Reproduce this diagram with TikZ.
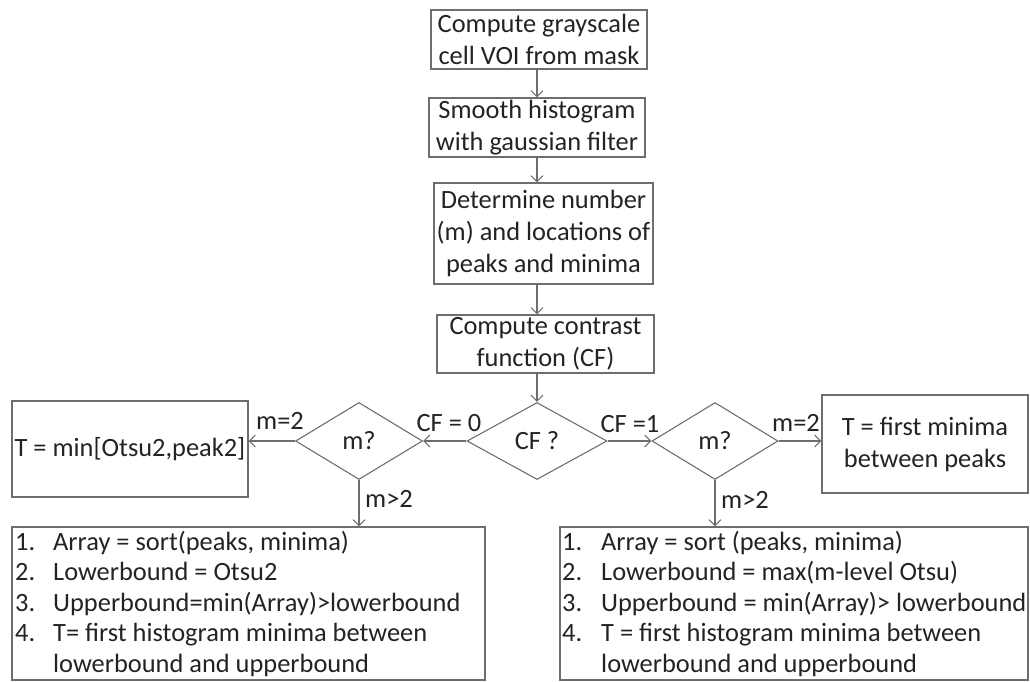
\documentclass[tikz,border=0pt]{standalone}
\usepackage{fontspec}
\setmainfont{Carlito}
\usetikzlibrary{arrows.meta,shapes.geometric}
\definecolor{linegray}{RGB}{110,110,110}
\definecolor{txt}{RGB}{35,35,35}
\begin{document}
\begin{tikzpicture}[x=1pt,y=-1pt,
  line/.style={draw=linegray, line width=1.1pt},
  box/.style={line, rectangle, inner sep=0pt, align=center, text=txt, font=\fontsize{26.4}{32}\selectfont},
  dec/.style={line, diamond, inner sep=0pt, text=txt, font=\fontsize{26.4}{32}\selectfont},
  arr/.style={draw=linegray, line width=1.1pt, -{Straight Barb[length=6pt,width=12pt]}},
  lbl/.style={text=txt, font=\fontsize{26.4}{32}\selectfont, inner sep=0pt},
  item/.style={text=txt, font=\fontsize{26.4}{30.5}\selectfont, inner sep=0pt, anchor=base west},
]
\useasboundingbox (0,0) rectangle (1030,681);

% main column
\node[box, minimum width=216, minimum height=59] (b1) at (539,39.5) {Compute grayscale\\cell VOI from mask};
\node[box, minimum width=216, minimum height=59] (b2) at (537,127.5) {Smooth histogram\\with gaussian filter};
\node[box, minimum width=219, minimum height=101] (b3) at (543.5,233.5) {Determine number\\(m) and locations of\\peaks and minima};
\node[box, minimum width=217, minimum height=58] (b4) at (545.5,344) {Compute contrast\\function (CF)};

% decisions
\node[dec, minimum width=140, minimum height=77] (cf) at (537,441) {CF ?};
\node[dec, minimum width=127, minimum height=77] (ml) at (359,441) {m?};
\node[dec, minimum width=126, minimum height=77] (mr) at (715,441) {m?};

% outcome boxes
\node[box, minimum width=236, minimum height=96] (tl) at (130,449) {T = min[Otsu2,peak2]};
\node[box, minimum width=206, minimum height=98] (tr) at (925,444) {T = first minima\\between peaks};
\node[box, minimum width=473, minimum height=153] (ll) at (248.5,603.5) {};
\node[box, minimum width=468, minimum height=153] (lr) at (794,603.5) {};

% connectors
\draw[arr] (b1.south -| cf.center) -- (b2.north -| cf.center);
\draw[arr] (b2.south -| cf.center) -- (b3.north -| cf.center);
\draw[arr] (b3.south -| cf.center) -- (b4.north -| cf.center);
\draw[arr] (b4.south -| cf.center) -- (cf.north);
\draw[arr] (cf.west) -- (ml.east);
\draw[arr] (cf.east) -- (mr.west);
\draw[arr] (ml.west) -- (ml.west -| tl.east);
\draw[arr] (mr.east) -- (mr.east -| tr.west);
\draw[arr] (ml.south) -- (ml.south |- ll.north);
\draw[arr] (mr.south) -- (mr.south |- lr.north);

% labels
\node[lbl] (lcf0) at (449,423) {CF = 0};
\node[lbl] (lcf1) at (630,424) {CF =1};
\node[lbl] (lm2l) at (280,421) {m=2};
\node[lbl] (lm2r) at (796,423) {m=2};
\node[lbl] (lmgl) at (389,499) {m>2};
\node[lbl] (lmgr) at (745,500) {m>2};

% left list
\node[item] (la1) at (15,550) {\makebox[38pt][l]{1.}Array = sort(peaks, minima)};
\node[item] (la2) at (15,580.5) {\makebox[38pt][l]{2.}Lowerbound = Otsu2};
\node[item] (la3) at (15,611) {\makebox[38pt][l]{3.}Upperbound=min(Array)>lowerbound};
\node[item] (la4) at (15,641.5) {\makebox[38pt][l]{4.}T= first histogram minima between};
\node[item] (la5) at (15,672) {\makebox[38pt][l]{}lowerbound and upperbound};

% right list
\node[item] (ra1) at (562,550) {\makebox[39pt][l]{1.}Array = sort (peaks, minima)};
\node[item] (ra2) at (562,580.5) {\makebox[39pt][l]{2.}Lowerbound = max(m-level Otsu)};
\node[item] (ra3) at (562,611) {\makebox[39pt][l]{3.}Upperbound = min(Array)> lowerbound};
\node[item] (ra4) at (562,641.5) {\makebox[39pt][l]{4.}T = first histogram minima between};
\node[item] (ra5) at (562,672) {\makebox[39pt][l]{}lowerbound and upperbound};
\end{tikzpicture}
\end{document}
